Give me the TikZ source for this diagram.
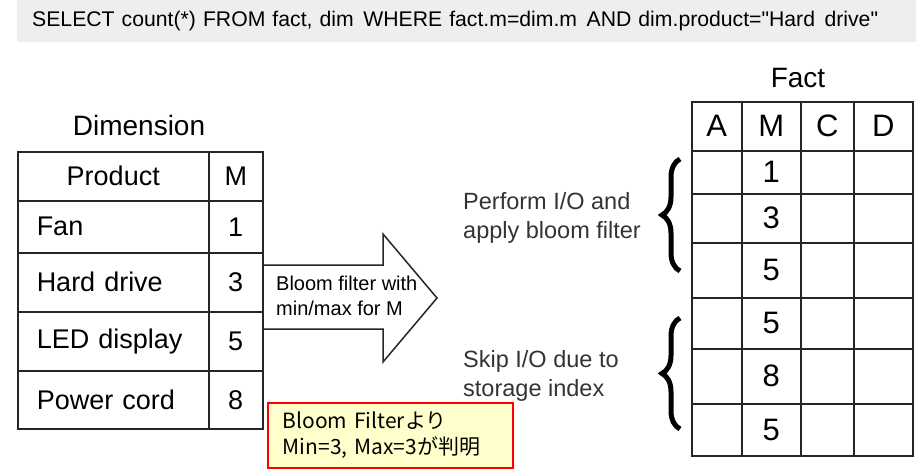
\documentclass[tikz,border=0pt]{standalone}
\usepackage{fontspec}
\setmainfont{Liberation Sans}
\newfontfamily\jpfont{Noto Sans CJK JP}
\newfontfamily\queryfont[Ligatures=ResetAll]{Liberation Sans}
\usetikzlibrary{decorations.pathreplacing}
\definecolor{barfill}{HTML}{EEEEEE}
\definecolor{notefill}{HTML}{FFFFCC}
\definecolor{labelgray}{HTML}{333333}
\newcommand\wgap{\hspace{0.45em}}
\tikzset{
    querybar/.style = {
        anchor=north west,
        fill=barfill,
        minimum width=899pt,
        minimum height=42pt,
        inner xsep=15pt,
        text width=869pt,
        align=left,
        font=\queryfont\fontsize{21.2}{24}\selectfont},
    cell/.style = {
        draw=black!85,
        line width=1.5pt,
        anchor=north west,
        inner sep=0pt,
        align=center},
    dimcell/.style = {
        cell,
        font=\fontsize{27}{30}\selectfont},
    prodcell/.style = {
        dimcell,
        minimum width=191pt,
        inner xsep=19pt,
        text width=153pt,
        align=left},
    mcell/.style = {
        dimcell,
        minimum width=54pt},
    factcell/.style = {
        cell,
        font=\fontsize{31}{34}\selectfont},
    tabletitle/.style = {
        font=\fontsize{28}{30}\selectfont},
    bracemark/.style = {
        decorate,
        decoration={brace, amplitude=18pt},
        line width=5pt},
    bracelabel/.style = {
        anchor=west,
        align=left,
        inner sep=0pt,
        text=labelgray,
        font=\fontsize{23.5}{29}\selectfont},
    note/.style = {
        anchor=north west,
        draw=red,
        line width=1.5pt,
        fill=notefill,
        minimum width=241pt,
        minimum height=65pt,
        inner xsep=15pt,
        text width=215pt,
        align=left,
        font=\jpfont\fontsize{21}{26}\selectfont}
}

\begin{document}
\begin{tikzpicture}[
    x = 1pt,
    y = -1pt
]
\useasboundingbox (0,0) rectangle (923,472);

% query
\node [querybar] (query) at (17,0)
    {SELECT count(*) FROM fact, dim\wgap WHERE fact.m=dim.m\wgap AND dim.product="Hard\wgap drive"};

% dimension table
\node [tabletitle] (dimtitle) at (139,125) {Dimension};
\node [dimcell, minimum width=191pt, minimum height=49pt] (prodhead) at (17,151) {Product};
\node [mcell, minimum height=49pt] (mhead) at (208,151) {M};
\foreach \row/\ya/\yb/\prod/\m in {fan/200/252/Fan/1, hdd/252/311/Hard drive/3,
        led/311/370/LED display/5, cord/370/428/Power cord/8}
{
    \pgfmathsetmacro\h{\yb-\ya}
    \node [prodcell, minimum height=\h pt] (\row) at (17,\ya) {\prod};
    \node [mcell, minimum height=\h pt] (\row m) at (208,\ya) {\m};
}

% bloom filter arrow
\draw [line width=1.5pt, draw=black!85, fill=white]
    (263,265) -- (383,265) -- (383,234) -- (437,298)
    -- (383,362) -- (383,329) -- (263,329) -- cycle;
\node [anchor=west, align=left, inner sep=0pt, font=\fontsize{20}{25}\selectfont]
    (arrowtext) at (276,295.5) {Bloom filter with\\min/max for M};

% fact table
\node [tabletitle] (facttitle) at (798,78) {Fact};
\foreach \col/\xa/\xb in {A/691/741, M/741/800, C/800/853, D/853/912}
{
    \pgfmathsetmacro\w{\xb-\xa}
    \node [factcell, minimum width=\w pt, minimum height=49pt] (head\col) at (\xa,101) {\col};
}
\foreach \r/\ya/\yb/\val in {1/150/193/1, 2/193/242/3, 3/242/297/5,
        4/297/348/5, 5/348/403/8, 6/403/455/5}
{
    \pgfmathsetmacro\h{\yb-\ya}
    \node [factcell, minimum width=59pt, minimum height=\h pt] (fm\r) at (741,\ya) {\val};
    \foreach \col/\xa/\xb in {a/691/741, c/800/853, d/853/912}
    {
        \pgfmathsetmacro\w{\xb-\xa}
        \node [factcell, minimum width=\w pt, minimum height=\h pt] (f\col\r) at (\xa,\ya) {};
    }
}

% braces
\draw [bracemark] (680,271) -- (680,159);
\draw [bracemark] (680,429) -- (680,318);
\node [bracelabel] (perform) at (463,217.5) {Perform I/O and\\apply bloom filter};
\node [bracelabel] (skip) at (463,375.5) {Skip I/O due to\\storage index};

% note
\node [note] (note) at (267,402) {Bloom Filterより\\Min=3, Max=3が判明};

\end{tikzpicture}
\end{document}
